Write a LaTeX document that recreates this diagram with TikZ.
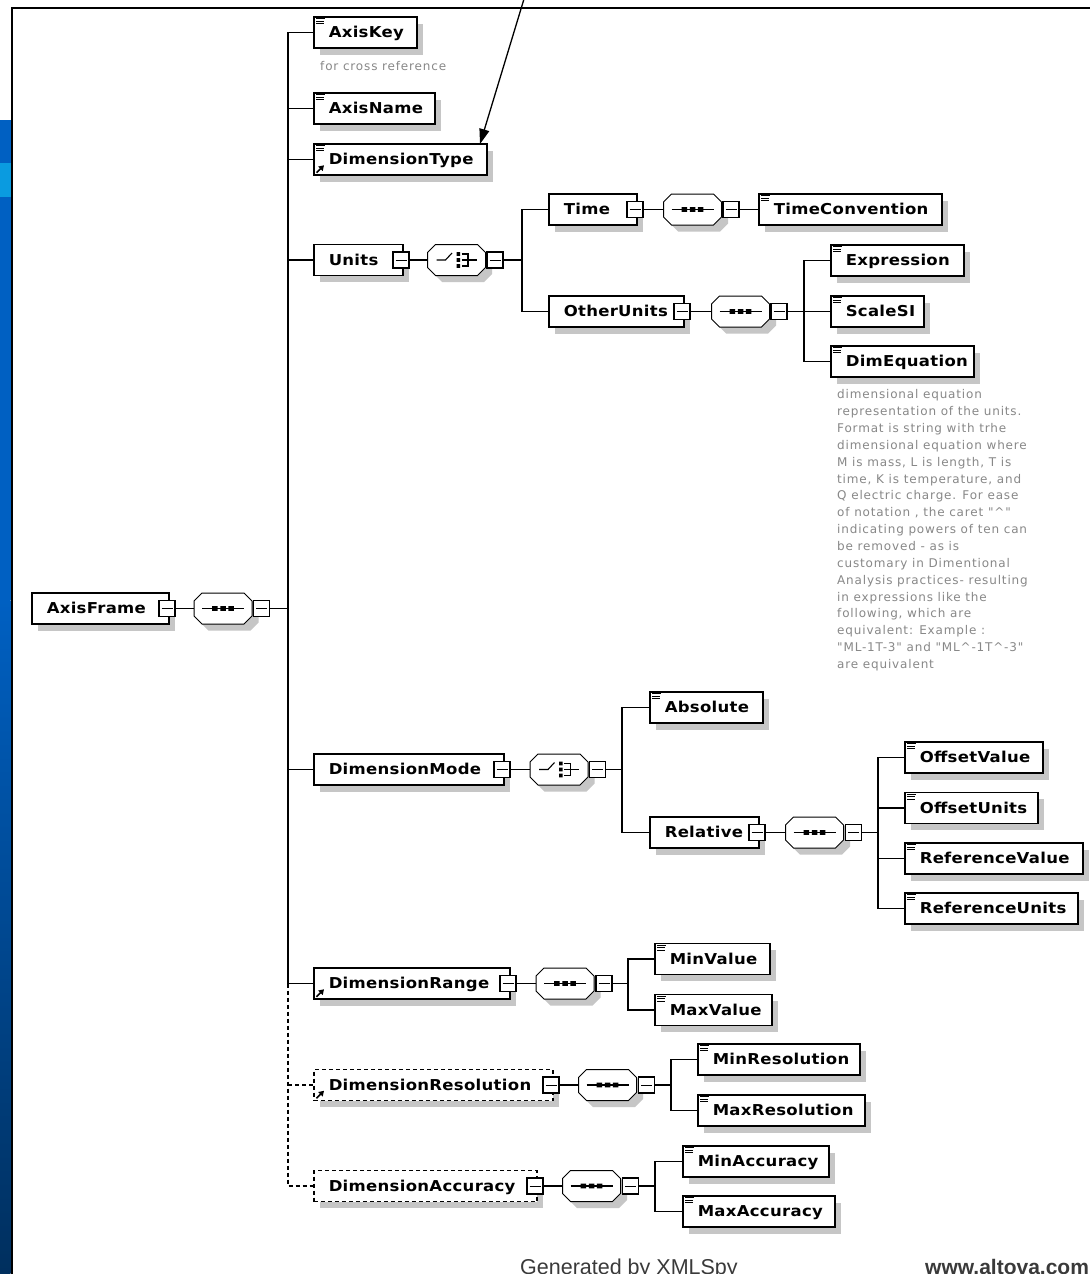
\documentclass[tikz,border=0pt]{standalone}
\usepackage{fontspec}
\setmainfont{DejaVu Sans}
\newfontfamily\boxfont[FakeStretch=1.1,LetterSpace=2]{DejaVu Sans}
\newfontfamily\notefont[LetterSpace=7]{DejaVu Sans}
\newfontfamily\footfont{Liberation Sans}
\usetikzlibrary{shadows,arrows.meta}
\definecolor{shadowgray}{HTML}{C6C6C6}
\definecolor{notegray}{HTML}{888888}
\definecolor{stripblue}{HTML}{0060C2}
\definecolor{stripdark}{HTML}{002F5E}
\definecolor{striplight}{HTML}{0A9BE0}
\definecolor{footgray}{HTML}{3A3A3A}
\newcommand{\xelem}[5][]{\node[elbox,#1] (#2) at (#3) {\hbox to #4pt{\hskip15pt #5\hfil}};}
\tikzset{
  elbox/.style={draw, fill=white, line width=1.5pt, anchor=west, inner sep=0pt,
    minimum height=31pt, text height=10.9pt, text depth=0pt,
    font=\boxfont\bfseries\fontsize{15}{18}\selectfont,
    drop shadow={shadow xshift=6.5pt, shadow yshift=-6.5pt, fill=shadowgray, opacity=1}},
  dashbox/.style={dash pattern=on 4pt off 3pt},
  minusbox/.style={draw, fill=white, line width=1.1pt, minimum width=16pt, minimum height=16pt, inner sep=0pt,
    path picture={\draw[line width=1pt] ([xshift=2.5pt]path picture bounding box.west) -- ([xshift=-2.5pt]path picture bounding box.east);}},
  comp/.style={rectangle, minimum width=58pt, minimum height=31pt, inner sep=0pt},
  conn/.style={line width=1.3pt},
  dashconn/.style={line width=1.3pt, dash pattern=on 4pt off 3pt},
  octframe/.pic={
    \fill[shadowgray, shift={(6.5,6.5)}] (-29,-7.5) -- (-21,-15.5) -- (21,-15.5) -- (29,-7.5) -- (29,7.5) -- (21,15.5) -- (-21,15.5) -- (-29,7.5) -- cycle;
    \draw[fill=white, line width=1pt] (-29,-7.5) -- (-21,-15.5) -- (21,-15.5) -- (29,-7.5) -- (29,7.5) -- (21,15.5) -- (-21,15.5) -- (-29,7.5) -- cycle;
  },
  seqsym/.pic={
    \draw[line width=1.1pt] (-21,0) -- (21,0);
    \fill (-10.8,-2.3) rectangle (-5.3,2.3) (-2.75,-2.3) rectangle (2.75,2.3) (5.3,-2.3) rectangle (10.8,2.3);
  },
  choicesym/.pic={
    \draw[line width=1.1pt] (-20,0) -- (-11,0) -- (-4.5,-7);
    \fill (0,-7.8) rectangle (3.7,-4.1) (0,-1.85) rectangle (3.7,1.85) (0,4.1) rectangle (3.7,7.8);
    \draw[line width=1.1pt] (5,-6) -- (11.5,-6) -- (11.5,6) -- (5,6) (5,0) -- (20,0);
  },
  simpleicon/.pic={
    \draw[line width=0.9pt] (3,2.6) -- (12,2.6) (3,5) -- (11,5) (3,7.4) -- (11,7.4);
  },
  reficon/.pic={
    \draw[line width=1.5pt,-{Triangle[length=5pt,width=6pt]}] (3.5,-3) -- (11,-10.5);
  }
}
\begin{document}
\begin{tikzpicture}[x=1pt,y=-1pt]
\useasboundingbox (0,0) rectangle (1090,1274);
\fill[white] (0,0) rectangle (1090,1274);
% left strip and frame
\fill[stripblue] (0,120) rectangle (10.5,600);
\shade[top color=stripblue, bottom color=stripdark] (0,600) rectangle (10.5,1274);
\fill[striplight] (0,163) rectangle (10.5,197);
\draw[line width=2pt] (11.5,1274) -- (11.5,8) -- (1090,8);

% root
\xelem{axisframe}{31,608.5}{137}{AxisFrame}
\node[minusbox] (afM) at (167,608.5) {};
\node[comp] (afC) at (223,608.5) {};
\pic at (afC) {octframe};
\pic at (afC) {seqsym};
\node[minusbox] (afCM) at (261.5,608.5) {};
\coordinate (bus) at (288,0);

% level 1
\xelem{axiskey}{313,32.5}{103}{AxisKey}
\xelem{axisname}{313,108.5}{121}{AxisName}
\xelem{dimtype}{313,159.5}{173}{DimensionType}
\xelem{units}{313,260}{89}{Units}
\xelem{dimmode}{313,769.5}{190}{DimensionMode}
\xelem{dimrange}{313,983.5}{196}{DimensionRange}
\xelem[dashbox]{dimres}{313,1085}{239}{DimensionResolution}
\xelem[dashbox]{dimacc}{313,1186}{223}{DimensionAccuracy}

% Units subtree
\node[minusbox] (unitsM) at (401,260) {};
\node[comp] (unitsC) at (456.5,260) {};
\pic at (unitsC) {octframe};
\pic at (unitsC) {choicesym};
\node[minusbox] (unitsCM) at (495,260) {};
\coordinate (ubr) at (522,0);
\xelem{time}{548,209.5}{88}{Time}
\xelem{otherunits}{548,311.5}{135}{OtherUnits}
\node[minusbox] (timeM) at (635,209.5) {};
\node[comp] (timeC) at (692.5,209.5) {};
\pic at (timeC) {octframe};
\pic at (timeC) {seqsym};
\node[minusbox] (timeCM) at (731,209.5) {};
\xelem{timeconv}{758,209.5}{183}{TimeConvention}
\node[minusbox] (ouM) at (682,311.5) {};
\node[comp] (ouC) at (740.5,311.5) {};
\pic at (ouC) {octframe};
\pic at (ouC) {seqsym};
\node[minusbox] (ouCM) at (779,311.5) {};
\coordinate (oubr) at (804,0);
\xelem{expression}{830,260.5}{133}{Expression}
\xelem{scalesi}{830,311.5}{93}{ScaleSI}
\xelem{dimeq}{830,361.5}{143}{DimEquation}

% DimensionMode subtree
\node[minusbox] (dmM) at (502,769.5) {};
\node[comp] (dmC) at (559,769.5) {};
\pic at (dmC) {octframe};
\pic at (dmC) {choicesym};
\node[minusbox] (dmCM) at (597.5,769.5) {};
\coordinate (dmbr) at (622,0);
\xelem{absolute}{649,707.5}{113}{Absolute}
\xelem{relative}{649,832.5}{109}{Relative}
\node[minusbox] (relM) at (757,832.5) {};
\node[comp] (relC) at (814.5,832.5) {};
\pic at (relC) {octframe};
\pic at (relC) {seqsym};
\node[minusbox] (relCM) at (853.5,832.5) {};
\coordinate (relbr) at (878,0);
\xelem{offval}{904,757.5}{138}{OffsetValue}
\xelem{offunits}{904,808}{133}{OffsetUnits}
\xelem{refval}{904,858.5}{178}{ReferenceValue}
\xelem{refunits}{904,908.5}{173}{ReferenceUnits}

% DimensionRange subtree
\node[minusbox] (drM) at (508,983.5) {};
\node[comp] (drC) at (565,983.5) {};
\pic at (drC) {octframe};
\pic at (drC) {seqsym};
\node[minusbox] (drCM) at (604,983.5) {};
\coordinate (drbr) at (628,0);
\xelem{minval}{654,959}{115}{MinValue}
\xelem{maxval}{654,1010}{117}{MaxValue}

% DimensionResolution subtree
\node[minusbox] (dresM) at (551,1085) {};
\node[comp] (dresC) at (607.5,1085) {};
\pic at (dresC) {octframe};
\pic at (dresC) {seqsym};
\node[minusbox] (dresCM) at (646.5,1085) {};
\coordinate (dresbr) at (671,0);
\xelem{minres}{697,1059.5}{162}{MinResolution}
\xelem{maxres}{697,1110.5}{167}{MaxResolution}

% DimensionAccuracy subtree
\node[minusbox] (daccM) at (535,1186) {};
\node[comp] (daccC) at (591.5,1186) {};
\pic at (daccC) {octframe};
\pic at (daccC) {seqsym};
\node[minusbox] (daccCM) at (630.5,1186) {};
\coordinate (daccbr) at (655,0);
\xelem{minacc}{682,1161.5}{146}{MinAccuracy}
\xelem{maxacc}{682,1211.5}{152}{MaxAccuracy}

% icons
\foreach \n in {axiskey,axisname,dimtype,timeconv,expression,scalesi,dimeq,absolute,offval,offunits,refval,refunits,minval,maxval,minres,maxres,minacc,maxacc}
  \pic at (\n.north west) {simpleicon};
\foreach \n in {dimtype,dimrange,dimres}
  \pic at (\n.south west) {reficon};

% connectors: root
\draw[conn] (afM) -- (afC);
\draw[conn] (afCM) -- (afCM -| bus);
\draw[conn] (axiskey.west) -- (axiskey.west -| bus) -- (dimrange.west -| bus) -- (dimrange.west);
\draw[dashconn] (dimrange.west -| bus) -- (dimacc.west -| bus) -- (dimacc.west);
\draw[dashconn] (dimres.west -| bus) -- (dimres.west);
\foreach \n in {axisname,dimtype,units,dimmode}
  \draw[conn] (\n.west -| bus) -- (\n.west);

% connectors: Units
\draw[conn] (unitsM) -- (unitsC);
\draw[conn] (unitsCM) -- (unitsCM -| ubr);
\draw[conn] (time.west) -- (time.west -| ubr) -- (otherunits.west -| ubr) -- (otherunits.west);
\draw[conn] (timeM) -- (timeC);
\draw[conn] (timeCM) -- (timeconv);
\draw[conn] (ouM) -- (ouC);
\draw[conn] (ouCM) -- (ouCM -| oubr);
\draw[conn] (expression.west) -- (expression.west -| oubr) -- (dimeq.west -| oubr) -- (dimeq.west);
\draw[conn] (scalesi.west -| oubr) -- (scalesi.west);

% connectors: DimensionMode
\draw[conn] (dmM) -- (dmC);
\draw[conn] (dmCM) -- (dmCM -| dmbr);
\draw[conn] (absolute.west) -- (absolute.west -| dmbr) -- (relative.west -| dmbr) -- (relative.west);
\draw[conn] (relM) -- (relC);
\draw[conn] (relCM) -- (relCM -| relbr);
\draw[conn] (offval.west) -- (offval.west -| relbr) -- (refunits.west -| relbr) -- (refunits.west);
\draw[conn] (offunits.west -| relbr) -- (offunits.west);
\draw[conn] (refval.west -| relbr) -- (refval.west);

% connectors: DimensionRange, Resolution, Accuracy
\draw[conn] (drM) -- (drC);
\draw[conn] (drCM) -- (drCM -| drbr);
\draw[conn] (minval.west) -- (minval.west -| drbr) -- (maxval.west -| drbr) -- (maxval.west);
\draw[conn] (dresM) -- (dresC);
\draw[conn] (dresCM) -- (dresCM -| dresbr);
\draw[conn] (minres.west) -- (minres.west -| dresbr) -- (maxres.west -| dresbr) -- (maxres.west);
\draw[conn] (daccM) -- (daccC);
\draw[conn] (daccCM) -- (daccCM -| daccbr);
\draw[conn] (minacc.west) -- (minacc.west -| daccbr) -- (maxacc.west -| daccbr) -- (maxacc.west);

% annotations
\node[anchor=base west, inner sep=0pt, text=notegray, font=\notefont\fontsize{12}{14}\selectfont] (xrefnote) at (320,70) {for cross reference};
\node[anchor=north west, inner sep=0pt, align=left, text=notegray, font=\notefont\fontsize{12}{16.85}\selectfont] (dimnote) at (837,389.5) {dimensional equation\\
representation of the units.\\
Format is string with trhe\\
dimensional equation where\\
M is mass, L is length, T is\\
time, K is temperature, and\\
Q electric charge. For ease\\
of notation , the caret "\textasciicircum"\\
indicating powers of ten can\\
be removed - as is\\
customary in Dimentional\\
Analysis practices- resulting\\
in expressions like the\\
following, which are\\
equivalent: Example :\\
"ML-1T-3" and "ML\textasciicircum-1T\textasciicircum-3"\\
are equivalent};

% footer
\node[anchor=base west, inner sep=0pt, text=footgray, font=\footfont\fontsize{21.5}{24}\selectfont] (gen) at (520,1274) {Generated by XMLSpy};
\node[anchor=base west, inner sep=0pt, text=footgray, font=\footfont\bfseries\fontsize{21}{24}\selectfont] (alt) at (925,1274) {www.altova.com};

% pointer arrow
\coordinate (arrowfrom) at (524,-1);
\coordinate (arrowto) at (480,144);
\draw[line width=1.3pt,-{Triangle[length=15pt,width=10pt]}] (arrowfrom) -- (arrowto);
\end{tikzpicture}
\end{document}
